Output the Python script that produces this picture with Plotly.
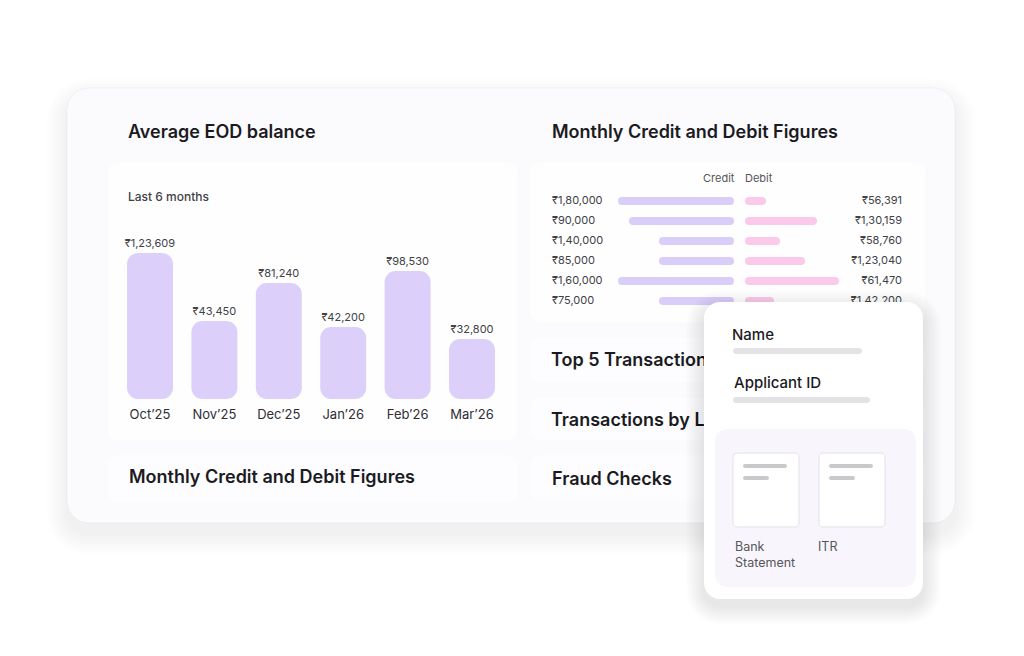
import plotly.graph_objects as go

W, H = 1024, 656
FONT = "Inter"

# ---------------- data ----------------
months = ["Oct’25", "Nov’25", "Dec’25", "Jan’26", "Feb’26", "Mar’26"]
eod_labels = ["₹1,23,609", "₹43,450", "₹81,240", "₹42,200", "₹98,530", "₹32,800"]
eod_bar_heights = [146, 78, 116, 72, 128, 60]

credit_labels = ["₹1,80,000", "₹90,000", "₹1,40,000", "₹85,000", "₹1,60,000", "₹75,000"]
credit_lengths = [116, 105, 75, 75, 116, 75]
debit_labels = ["₹56,391", "₹1,30,159", "₹58,760", "₹1,23,040", "₹61,470", "₹1,42,200"]
debit_lengths = [21, 72, 35, 60, 94, 29]

side_titles = ["Top 5 Transactions", "Transactions by Location"]

# ---------------- styles ----------------
C_BAR = "#dcd0fb"
C_CREDIT = "#d9cef9"
C_DEBIT = "#fbc9e9"
C_TITLE = "#1b1b1f"
C_TEXT = "#414146"
C_MUTED = "#55555a"


def px(x):
    return x / W


def py(y):
    return 1 - y / H


def rrect(x0, y0, x1, y1, r):
    k = 0.5523 * r
    P = lambda x, y: f"{px(x):.5f},{py(y):.5f}"
    return (
        f"M{P(x0 + r, y0)} L{P(x1 - r, y0)} "
        f"C{P(x1 - r + k, y0)} {P(x1, y0 + r - k)} {P(x1, y0 + r)} "
        f"L{P(x1, y1 - r)} "
        f"C{P(x1, y1 - r + k)} {P(x1 - r + k, y1)} {P(x1 - r, y1)} "
        f"L{P(x0 + r, y1)} "
        f"C{P(x0 + r - k, y1)} {P(x0, y1 - r + k)} {P(x0, y1 - r)} "
        f"L{P(x0, y0 + r)} "
        f"C{P(x0, y0 + r - k)} {P(x0 + r - k, y0)} {P(x0 + r, y0)} Z"
    )


shapes = []


def box(x0, y0, x1, y1, r, fill, layer="below", line=None):
    d = dict(type="path", path=rrect(x0, y0, x1, y1, r), xref="paper", yref="paper",
             fillcolor=fill, layer=layer, line=dict(width=0))
    if line:
        d["line"] = dict(color=line[0], width=line[1])
    shapes.append(d)


def shadow(x0, y0, x1, y1, r, layer="below", n=12, step=1.6, dy=7, a=0.010):
    for i in range(n, 0, -1):
        g = i * step
        box(x0 - g, y0 - g + dy, x1 + g, y1 + g + dy, r + g, f"rgba(30,30,40,{a})", layer)


# main card
shadow(67, 88, 955, 523, 22, n=14, step=1.5, dy=11, a=0.005)
box(67, 88, 955, 523, 22, "#fbfafd", line=("rgba(0,0,0,0.04)", 1))
# inner panels
box(108, 163, 517, 440, 10, "#fefeff")
box(108, 455, 517, 502, 10, "#fdfdff")
box(530, 163, 925, 322, 10, "#fefeff")
box(530, 338, 925, 382, 10, "#fdfdff")
box(530, 398, 925, 440, 10, "#fdfdff")
box(530, 455, 925, 500, 10, "#fdfdff")

# overlay card (above traces)
shadow(704, 302, 923, 599, 16, layer="above", n=12, step=1.5, dy=7, a=0.008)
box(704, 302, 923, 599, 16, "#ffffff", layer="above")
box(733, 348, 862, 354, 3, "#e3e3e6", layer="above")
box(733, 397, 870, 403, 3, "#e3e3e6", layer="above")
box(715, 429, 916, 587, 12, "#f8f5fc", layer="above")
for tx in (733, 819):
    box(tx, 453, tx + 66, 527, 4, "#ffffff", layer="above", line=("#e4e0e9", 1))
    box(tx + 10, 464, tx + 54, 468, 2, "#c9c9cc", layer="above")
    box(tx + 10, 476, tx + 36, 480, 2, "#c9c9cc", layer="above")

fig = go.Figure()

# ---------------- EOD bar chart ----------------
zeros = [0] * len(months)
fig.add_trace(go.Bar(x=months, y=eod_bar_heights, base=zeros, width=0.714, xaxis="x", yaxis="y",
                     marker=dict(color=C_BAR, cornerradius=11, line=dict(width=0)),
                     text=eod_labels, textposition="outside", constraintext="none",
                     cliponaxis=False, textfont=dict(family=FONT, size=11, color=C_TEXT),
                     hoverinfo="skip", showlegend=False))

# ---------------- credit / debit ----------------
rows = list(range(len(credit_labels)))
CREDIT_MAX = 182
DEBIT_MAX = 157
fig.add_trace(go.Bar(y=rows, x=credit_lengths, base=[0] * len(rows), orientation="h", width=0.4,
                     marker=dict(color=C_CREDIT, cornerradius=4, line=dict(width=0)),
                     xaxis="x2", yaxis="y2", hoverinfo="skip", showlegend=False))
fig.add_trace(go.Bar(y=rows, x=debit_lengths, base=[0] * len(rows), orientation="h", width=0.4,
                     marker=dict(color=C_DEBIT, cornerradius=4, line=dict(width=0)),
                     xaxis="x3", yaxis="y3", hoverinfo="skip", showlegend=False))
fig.add_trace(go.Scatter(x=[CREDIT_MAX] * len(rows), y=rows, mode="text", text=credit_labels,
                         textposition="middle right", cliponaxis=False,
                         textfont=dict(family=FONT, size=11, color=C_TEXT),
                         xaxis="x2", yaxis="y2", hoverinfo="skip", showlegend=False))
fig.add_trace(go.Scatter(x=[DEBIT_MAX] * len(rows), y=rows, mode="text", text=debit_labels,
                         textposition="middle left", cliponaxis=False,
                         textfont=dict(family=FONT, size=11, color=C_TEXT),
                         xaxis="x3", yaxis="y3", hoverinfo="skip", showlegend=False))

# titles that sit under the overlay card (drawn as traces so the card covers them)
fig.add_trace(go.Scatter(x=[551, 551], y=[361, 421], mode="text", text=side_titles,
                         textposition="middle right", cliponaxis=False,
                         textfont=dict(family=FONT, size=18, color=C_TITLE, weight=600),
                         xaxis="x4", yaxis="y4", hoverinfo="skip", showlegend=False))

# ---------------- annotations ----------------
ann = []


def label(x, y, text, size, color, weight=400, anchor="left"):
    ann.append(dict(x=px(x), y=py(y), xref="paper", yref="paper", text=text, showarrow=False,
                    xanchor=anchor, yanchor="middle", align=anchor,
                    font=dict(family=FONT, size=size, color=color, weight=weight)))


label(126, 131, "Average EOD balance", 18, C_TITLE, 600)
label(550, 131, "Monthly Credit and Debit Figures", 18, C_TITLE, 600)
label(126, 196, "Last 6 months", 12, C_TEXT, 500)
label(127, 476, "Monthly Credit and Debit Figures", 18, C_TITLE, 600)
label(550, 478, "Fraud Checks", 18, C_TITLE, 600)
label(737, 178, "Credit", 11, C_MUTED, 400, "right")
label(743, 178, "Debit", 11, C_MUTED, 400)
label(730, 334, "Name", 15, C_TITLE, 500)
label(732, 382, "Applicant ID", 15, C_TITLE, 500)
label(733, 554, "Bank<br>Statement", 12.5, C_MUTED, 400)
label(816, 546, "ITR", 12.5, C_MUTED, 400)

# ---------------- layout ----------------
bx0, bx1 = 150 - 32.2, 472 + 32.2
by_base, by_top = 399, 229
noax = dict(showgrid=False, zeroline=False, showline=False, showticklabels=False, ticks="", fixedrange=True)

fig.update_layout(
    width=W, height=H, margin=dict(l=0, r=0, t=0, b=0),
    paper_bgcolor="#ffffff", plot_bgcolor="rgba(0,0,0,0)",
    barmode="overlay", showlegend=False,
    shapes=shapes, annotations=ann,
    font=dict(family=FONT),
    xaxis=dict(domain=[px(bx0), px(bx1)], anchor="y", range=[-0.5, 5.5], showgrid=False,
               zeroline=False, showline=False, ticks="", ticklabelstandoff=6,
               tickfont=dict(family=FONT, size=13, color="#2e2e33")),
    yaxis=dict(domain=[py(by_base), py(by_top)], anchor="x", range=[0, by_base - by_top], **noax),
    xaxis2=dict(domain=[px(552), px(734)], anchor="y2", range=[CREDIT_MAX, 0], **noax),
    yaxis2=dict(domain=[py(311), py(191)], anchor="x2", range=[5.5, -0.5], **noax),
    xaxis3=dict(domain=[px(745), px(902)], anchor="y3", range=[0, DEBIT_MAX], **noax),
    yaxis3=dict(domain=[py(311), py(191)], anchor="x3", range=[5.5, -0.5], **noax),
    xaxis4=dict(domain=[0, 1], anchor="y4", range=[0, W], **noax),
    yaxis4=dict(domain=[0, 1], anchor="x4", range=[H, 0], **noax),
)

fig.write_html("out.html")
